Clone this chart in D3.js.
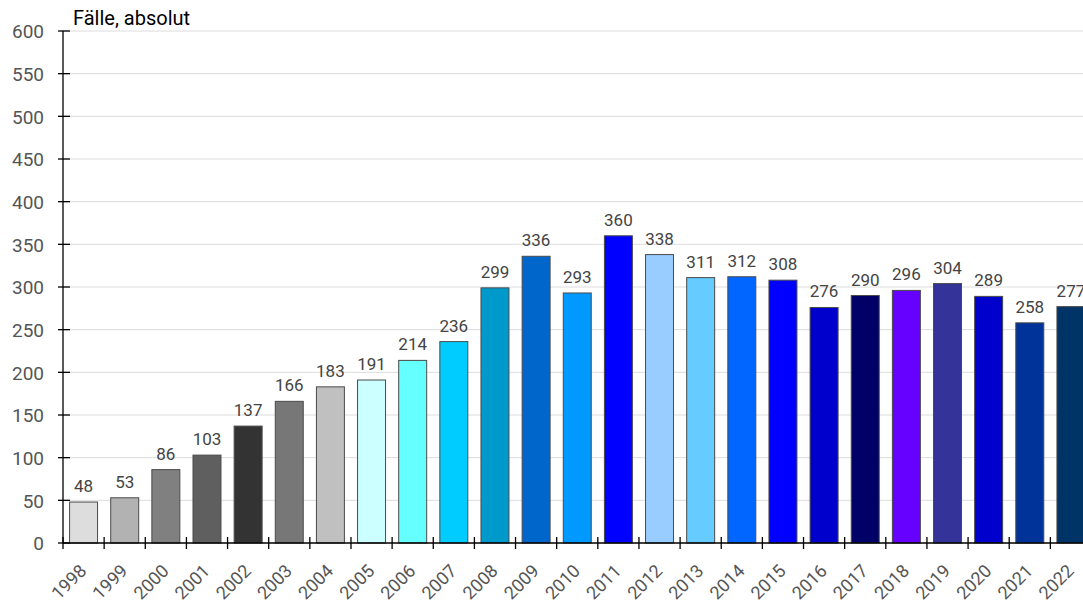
<!DOCTYPE html>
<html>
<head>
<meta charset="utf-8">
<script src="https://cdn.jsdelivr.net/npm/d3@7"></script>
<style>
  html, body { margin: 0; padding: 0; background: #fff; overflow: hidden; }
  svg { display: block; font-family: Roboto, "Noto Sans", sans-serif; }
</style>
</head>
<body>
<svg id="chart" width="1083" height="603"></svg>
<script>
// Fälle pro Jahr
const years = ["1998","1999","2000","2001","2002","2003","2004","2005","2006","2007","2008","2009","2010",
               "2011","2012","2013","2014","2015","2016","2017","2018","2019","2020","2021","2022"];
const cases = [48, 53, 86, 103, 137, 166, 183, 191, 214, 236, 299, 336, 293,
               360, 338, 311, 312, 308, 276, 290, 296, 304, 289, 258, 277];
const barColors = ["#dddddd","#b2b2b2","#808080","#5f5f5f","#333333","#777777","#c0c0c0","#ccffff","#66ffff","#00ccff",
                   "#0099cc","#0066cc","#0099ff","#0000ff","#99ccff","#66ccff","#0066ff","#0000ff","#0000cc","#000066",
                   "#6600ff","#333399","#0000cc","#003399","#003366"];
const yTicks = [0, 50, 100, 150, 200, 250, 300, 350, 400, 450, 500, 550, 600];
const yTitle = "Fälle, absolut";

const svg = d3.select("#chart");
const W = 1083;
const mLeft = 63, mTop = 31, mBottom = 543;
const step = 41.14;

const x = d3.scaleBand().domain(years).range([mLeft, mLeft + step * years.length]).padding(0);
const y = d3.scaleLinear().domain([0, 600]).range([mBottom, mTop]);
const barW = x.bandwidth() * 0.68;

// Gitterlinien
svg.append("g").selectAll("line")
  .data(yTicks.filter(d => d > 0))
  .join("line")
  .attr("x1", mLeft).attr("x2", W)
  .attr("y1", d => y(d)).attr("y2", d => y(d))
  .attr("stroke", "#dcdcdc").attr("stroke-width", 1);

// Balken
svg.append("g").selectAll("rect")
  .data(years)
  .join("rect")
  .attr("x", d => x(d) + (x.bandwidth() - barW) / 2)
  .attr("y", (d, i) => y(cases[i]))
  .attr("width", barW)
  .attr("height", (d, i) => y(0) - y(cases[i]))
  .attr("fill", (d, i) => barColors[i])
  .attr("stroke", "#4a4a4a")
  .attr("stroke-width", 1);

// Werte über den Balken
svg.append("g").selectAll("text")
  .data(years)
  .join("text")
  .attr("x", d => x(d) + x.bandwidth() / 2)
  .attr("y", (d, i) => y(cases[i]) - 10)
  .attr("text-anchor", "middle")
  .attr("font-size", 17)
  .attr("fill", "#444")
  .text((d, i) => cases[i]);

// y-Achse
const yAxis = svg.append("g");
yAxis.append("line")
  .attr("x1", mLeft).attr("x2", mLeft)
  .attr("y1", mTop).attr("y2", mBottom)
  .attr("stroke", "#000").attr("stroke-width", 1.3);
const yt = yAxis.selectAll("g.tick").data(yTicks).join("g").attr("class", "tick")
  .attr("transform", d => `translate(0,${y(d)})`);
yt.append("line").attr("x1", mLeft - 5).attr("x2", mLeft + 7).attr("stroke", "#000").attr("stroke-width", 1.3);
yt.append("text")
  .attr("x", 44).attr("dy", "0.38em")
  .attr("text-anchor", "end")
  .attr("font-size", 19)
  .attr("fill", "#555")
  .text(d => d);

// x-Achse
const xAxis = svg.append("g");
xAxis.append("line")
  .attr("x1", mLeft).attr("x2", W)
  .attr("y1", mBottom).attr("y2", mBottom)
  .attr("stroke", "#000").attr("stroke-width", 1.3);
const xt = xAxis.selectAll("g.tick").data(years).join("g").attr("class", "tick");
xt.append("line")
  .attr("x1", d => x(d)).attr("x2", d => x(d))
  .attr("y1", mBottom - 6).attr("y2", mBottom + 6)
  .attr("stroke", "#000").attr("stroke-width", 1.3);
xt.append("text")
  .attr("transform", d => `translate(${x(d) + x.bandwidth() / 2 + 4},${mBottom + 29}) rotate(-45)`)
  .attr("text-anchor", "end")
  .attr("font-size", 18)
  .attr("fill", "#555")
  .text(d => d);

// Achsentitel
svg.append("text")
  .attr("x", 73).attr("y", 25)
  .attr("font-size", 20)
  .attr("fill", "#000")
  .text(yTitle);
</script>
</body>
</html>
